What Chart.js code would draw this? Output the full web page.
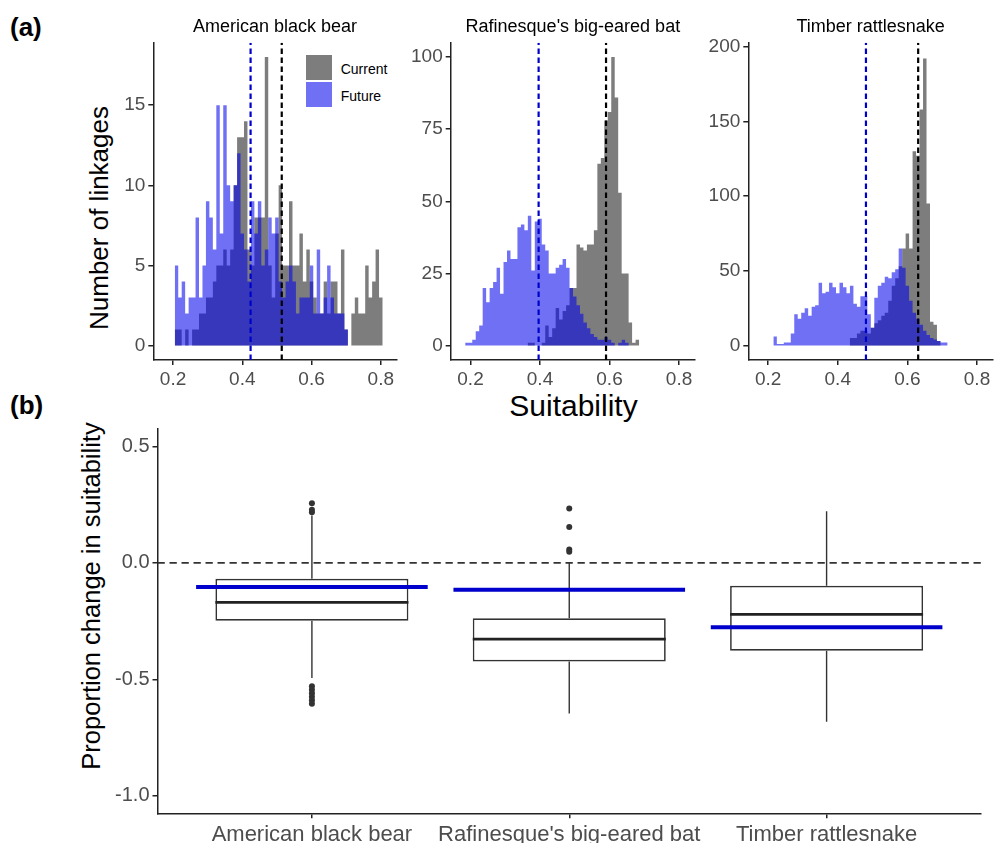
<!DOCTYPE html>
<html>
<head>
<meta charset="utf-8">
<title>Linkage suitability</title>
<script src="https://cdn.jsdelivr.net/npm/chart.js@4.4.1/dist/chart.umd.min.js"></script>
<style>
  html, body { margin: 0; padding: 0; background: #fff; }
  body { width: 994px; height: 843px; position: relative; overflow: hidden;
         font-family: "Liberation Sans", Arial, sans-serif; }
  canvas { position: absolute; }
  .lbl { position: absolute; white-space: nowrap; line-height: 1; color: #000; }
  .tag { font-weight: bold; font-size: 26px; }
  .vtitle { font-size: 26px; transform: translate(-50%, -50%) rotate(-90deg); }
  .swatch { position: absolute; width: 26px; height: 25px; }
  .legend-text { position: absolute; font-size: 14px; line-height: 1; transform: translateY(-50%); }
</style>
</head>
<body>
<div class="lbl tag" style="left:10px;top:14px">(a)</div>
<div class="lbl tag" style="left:10px;top:392px">(b)</div>
<div class="lbl vtitle" style="left:99px;top:218px">Number of linkages</div>
<div class="lbl" style="left:573.5px;top:391px;font-size:30px;transform:translateX(-50%)">Suitability</div>
<div class="lbl vtitle" style="left:92px;top:596px;font-size:25.5px">Proportion change in suitability</div>
<div id="legend"></div>

<canvas id="hist-bear" width="400" height="400" style="left:0;top:0"></canvas>
<canvas id="hist-bat" width="300" height="400" style="left:400px;top:0"></canvas>
<canvas id="hist-snake" width="294" height="400" style="left:700px;top:0"></canvas>
<canvas id="box-change" width="994" height="429" style="left:0;top:414px"></canvas>

<script>
(function () {
  "use strict";

  const FONT = "'Liberation Sans', Arial, sans-serif";
  const TICK_COLOR = "#4d4d4d";
  const AXIS_COLOR = "#222";
  const CUR_COLOR = "rgba(0,0,0,0.51)";
  const FUT_COLOR = "rgba(0,0,235,0.56)";
  const MEAN_FUT_COLOR = "#0000cc";
  const MEAN_CUR_COLOR = "#000";

  // ---- panel (a): histograms of suitability, 0.01-wide bins ----
  const species = ["American black bear", "Rafinesque's big-eared bat", "Timber rattlesnake"];
  const binWidth = 0.01;
  const suitRange = [0.143, 0.846];
  const suitTicks = [0.2, 0.4, 0.6, 0.8];

  // first bin centre + counts per bin
  const bearFirstBin = 0.21;
  const bearCurrent = [1, 1, 1, 0, 1, 0, 1, 1, 2, 2, 3, 3, 4, 5, 5, 6, 5, 6, 10, 13,
    13, 14, 6, 5, 8, 8, 8, 18, 5, 3, 7, 10, 5, 5, 9, 5, 5, 7, 4, 6,
    4, 3, 2, 2, 4, 2, 4, 4, 2, 6, 1, 0, 2, 3, 2, 2, 5, 3, 4, 6, 3];
  const bearFuture = [1, 5, 3, 4, 2, 3, 3, 8, 3, 5, 9, 8, 6, 15, 7, 15, 10, 9, 10, 12,
    7, 6, 4, 9, 7, 9, 5, 6, 8, 7, 8, 4, 3, 4, 5, 4, 2, 3, 3, 3,
    5, 2, 6, 2, 3, 5, 3, 2, 2, 2, 1, 0, 0, 0, 0, 0, 0, 0, 0, 0, 0];
  const bearYRange = [-0.9, 18.9];
  const bearYTicks = [0, 5, 10, 15];

  const batFirstBin = 0.18;
  const batCurrent = [0, 0, 0, 0, 0, 0, 0, 0, 0, 0, 0, 0, 0, 0, 0, 0, 0, 0, 0, 0,
    1, 1, 0, 0, 1, 7, 3, 6, 13, 9, 12, 14, 20, 20, 35, 34, 33, 35, 35, 40,
    63, 65, 78, 81, 100, 86, 53, 25, 25, 8, 1, 2];
  const batFuture = [1, 0, 1, 1, 2, 5, 7, 20, 15, 20, 22, 27, 18, 29, 33, 30, 30, 41, 42, 40,
    45, 26, 43, 44, 35, 33, 25, 25, 27, 28, 30, 27, 20, 17, 14, 11, 8, 6, 4, 3,
    2, 2, 3, 2, 1, 0, 1, 2, 1, 0, 0, 0];
  const batYRange = [-5, 105];
  const batYTicks = [0, 25, 50, 75, 100];

  const snakeFirstBin = 0.22;
  const snakeCurrent = [0, 0, 0, 0, 0, 0, 0, 0, 0, 0, 0, 0, 0, 0, 0, 0, 0, 0, 0, 0,
    0, 0, 0, 5, 5, 8, 10, 10, 8, 12, 15, 17, 20, 22, 30, 40, 45, 53, 65, 75,
    65, 130, 127, 158, 192, 95, 16, 14, 3, 0, 0];
  const snakeFuture = [2, 6, 1, 1, 2, 2, 8, 21, 18, 22, 25, 20, 26, 27, 42, 35, 36, 42, 39, 35,
    42, 39, 35, 40, 28, 26, 33, 33, 21, 12, 32, 40, 42, 46, 45, 49, 51, 65, 52, 40,
    30, 22, 18, 14, 10, 7, 5, 4, 3, 2, 2];
  const snakeYRange = [-9.65, 202.65];
  const snakeYTicks = [0, 50, 100, 150, 200];

  const meanCurrent = [0.514, 0.590, 0.631];
  const meanFuture = [0.424, 0.396, 0.481];

  // ---- panel (b): proportion change in suitability ----
  const boxQ1 = [-0.248, -0.423, -0.377];
  const boxMedian = [-0.169, -0.327, -0.221];
  const boxQ3 = [-0.068, -0.238, -0.098];
  const whiskerLow = [-0.494, -0.647, -0.682];
  const whiskerHigh = [0.204, 0.004, 0.222];
  const outliers = [
    [0.256, 0.228, 0.218, -0.530, -0.545, -0.560, -0.575, -0.590, -0.605],
    [0.234, 0.154, 0.058, 0.048],
    [],
  ];
  const meanChange = [-0.103, -0.115, -0.276];
  const changeRange = [-1.075, 0.575];
  const changeTicks = [-1.0, -0.5, 0.0, 0.5];

  Chart.defaults.font.family = FONT;

  function fixedTicks(values) {
    return (scale) => { scale.ticks = values.map((v) => ({ value: v })); };
  }

  function axisStyle(tickSize) {
    return {
      grid: { display: true, drawOnChartArea: false, drawTicks: true, tickLength: 5,
              color: AXIS_COLOR, lineWidth: 1.5, offset: false },
      border: { display: true, color: AXIS_COLOR, width: 1.5 },
      ticks: { color: TICK_COLOR, font: { size: tickSize }, padding: 3,
               maxRotation: 0, autoSkip: false },
    };
  }

  function vline(x, yRange, color) {
    return {
      data: [{ x: x, y: yRange[0] }, { x: x, y: yRange[1] }],
      borderColor: color,
      borderWidth: 2.2,
      borderDash: [5.5, 3.5],
      pointRadius: 0,
      fill: false,
      order: 0,
    };
  }

  // histogram outline as a stepped area: one point per bin's left edge,
  // plus the right edge of the last bin (the following bin is empty)
  function stepPoints(firstBin, counts) {
    const left = firstBin - binWidth / 2;
    const pts = counts.map((c, k) => ({ x: +(left + k * binWidth).toFixed(4), y: c }));
    pts.push({ x: +(left + counts.length * binWidth).toFixed(4), y: 0 });
    return pts;
  }

  function histogram(id, idx, firstBin, current, future, yRange, yTicks, yWidth, padRight) {
    const area = { stepped: "after", fill: "origin", borderColor: "rgba(0,0,0,0)", borderWidth: 1, pointRadius: 0 };
    const xAxis = axisStyle(19);
    const yAxis = axisStyle(19);
    xAxis.ticks.callback = (v) => Number(v).toFixed(1);
    new Chart(document.getElementById(id), {
      type: "line",
      data: {
        datasets: [
          vline(meanFuture[idx], yRange, MEAN_FUT_COLOR),
          vline(meanCurrent[idx], yRange, MEAN_CUR_COLOR),
          Object.assign({ label: "Future", data: stepPoints(firstBin, future), backgroundColor: FUT_COLOR, order: 1 }, area),
          Object.assign({ label: "Current", data: stepPoints(firstBin, current), backgroundColor: CUR_COLOR, order: 2 }, area),
        ],
      },
      options: {
        responsive: false,
        animation: false,
        events: [],
        layout: { padding: { left: 0, right: padRight, top: 0, bottom: 0 } },
        plugins: {
          legend: { display: false },
          tooltip: { enabled: false },
          title: {
            display: true, text: species[idx], color: "#000", fullSize: false,
            font: { size: 18, weight: "normal" }, padding: { top: 16.7, bottom: 4.4 },
          },
        },
        scales: {
          x: Object.assign(xAxis, {
            type: "linear", min: suitRange[0], max: suitRange[1], offset: false,
            afterBuildTicks: fixedTicks(suitTicks),
            afterFit: (s) => { s.height = 40; },
          }),
          y: Object.assign(yAxis, {
            type: "linear", min: yRange[0], max: yRange[1],
            afterBuildTicks: fixedTicks(yTicks),
            afterFit: (s) => { s.width = yWidth; },
          }),
        },
      },
    });
  }

  histogram("hist-bear", 0, bearFirstBin, bearCurrent, bearFuture, bearYRange, bearYTicks, 153.3, 3.3);
  histogram("hist-bat", 1, batFirstBin, batCurrent, batFuture, batYRange, batYTicks, 50.7, 5);
  histogram("hist-snake", 2, snakeFirstBin, snakeCurrent, snakeFuture, snakeYRange, snakeYTicks, 48.3, 1);

  // legend for panel (a), placed inside the bear panel like the original
  const legendItems = [
    { label: "Current", color: CUR_COLOR },
    { label: "Future", color: FUT_COLOR },
  ];
  const legend = document.getElementById("legend");
  legendItems.forEach((item, k) => {
    const top = 55 + k * 27.3;
    const sw = document.createElement("div");
    sw.className = "swatch";
    sw.style.left = "305.7px";
    sw.style.top = top + "px";
    sw.style.background = item.color;
    const tx = document.createElement("div");
    tx.className = "legend-text";
    tx.style.left = "340.7px";
    tx.style.top = (top + 13.5) + "px";
    tx.textContent = item.label;
    legend.appendChild(sw);
    legend.appendChild(tx);
  });

  // ---- box plot ----
  const halfBox = 0.375;
  const halfMean = 0.45;
  const whiskerPts = [];
  const medianPts = [];
  const meanPts = [];
  const outlierPts = [];
  species.forEach((s, i) => {
    const x = i + 1;
    whiskerPts.push({ x: x, y: boxQ3[i] }, { x: x, y: whiskerHigh[i] }, { x: x, y: null });
    whiskerPts.push({ x: x, y: boxQ1[i] }, { x: x, y: whiskerLow[i] }, { x: x, y: null });
    medianPts.push({ x: x - halfBox, y: boxMedian[i] }, { x: x + halfBox, y: boxMedian[i] }, { x: x, y: null });
    meanPts.push({ x: x - halfMean, y: meanChange[i] }, { x: x + halfMean, y: meanChange[i] }, { x: x, y: null });
    outliers[i].forEach((v) => outlierPts.push({ x: x, y: v }));
  });

  const bx = axisStyle(22);
  const by = axisStyle(20);
  bx.ticks.callback = (v) => species[Math.round(v) - 1] || "";
  by.ticks.callback = (v) => Number(v).toFixed(1);

  new Chart(document.getElementById("box-change"), {
    type: "bar",
    data: {
      datasets: [
        {
          type: "line", data: [{ x: 0.4, y: 0 }, { x: 3.6, y: 0 }],
          borderColor: "#333", borderWidth: 1.8, borderDash: [7.3, 4.7], pointRadius: 0, order: 10,
        },
        {
          type: "line", data: whiskerPts, borderColor: "#333", borderWidth: 1.4,
          pointRadius: 0, spanGaps: false, order: 6,
        },
        {
          type: "bar", data: species.map((s, i) => ({ x: i + 1, y: [boxQ1[i], boxQ3[i]] })),
          backgroundColor: "#fff", borderColor: "#333", borderWidth: 1.7, borderSkipped: false,
          barPercentage: 0.75, categoryPercentage: 1, order: 5,
        },
        {
          type: "line", data: medianPts, borderColor: "#222", borderWidth: 2.7,
          pointRadius: 0, spanGaps: false, order: 4,
        },
        {
          type: "scatter", data: outlierPts, backgroundColor: "#333", borderWidth: 0,
          pointRadius: 3, order: 3,
        },
        {
          type: "line", data: meanPts, borderColor: "#0000cc", borderWidth: 4,
          pointRadius: 0, spanGaps: false, order: 1,
        },
      ],
    },
    options: {
      responsive: false,
      animation: false,
      events: [],
      // the y tick labels reserve ~15px above the plot, which places its top at y=429
      layout: { padding: { left: 0, right: 13, top: 0, bottom: 0 } },
      plugins: { legend: { display: false }, tooltip: { enabled: false } },
      scales: {
        x: Object.assign(bx, {
          type: "linear", min: 0.4, max: 3.6, offset: false,
          afterBuildTicks: fixedTicks([1, 2, 3]),
          afterFit: (s) => { s.height = 29.7; },
        }),
        y: Object.assign(by, {
          type: "linear", min: changeRange[0], max: changeRange[1],
          afterBuildTicks: fixedTicks(changeTicks),
          afterFit: (s) => { s.width = 157.5; },
        }),
      },
    },
  });
})();
</script>
</body>
</html>
